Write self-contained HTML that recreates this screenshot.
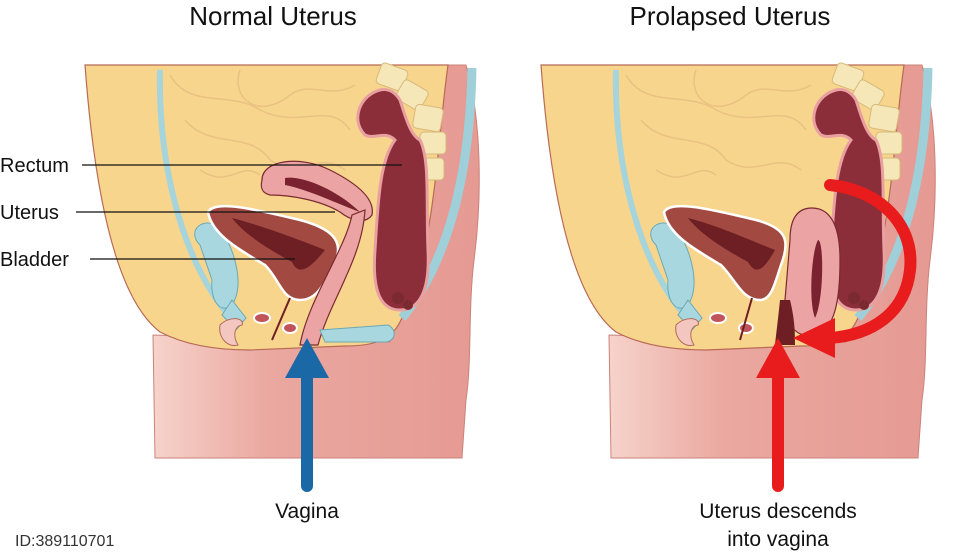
<!DOCTYPE html>
<html><head><meta charset="utf-8"><style>
html,body{margin:0;padding:0;background:#fff;}
svg{display:block;}
text{font-family:"Liberation Sans",sans-serif;}
</style></head><body>
<svg width="970" height="552" viewBox="0 0 970 552" xmlns="http://www.w3.org/2000/svg">
<defs>
<linearGradient id="skin" x1="0" x2="1" y1="0" y2="0">
<stop offset="0" stop-color="#f6d3cb"/><stop offset="0.35" stop-color="#eaa8a0"/><stop offset="1" stop-color="#e59a93"/>
</linearGradient>
<g id="body">
<path d="M380 65 L466 65 C482 120 482 200 474 260 C468 310 472 360 466 400 L462 458 L155 458 L153 335 L390 342 Z" fill="url(#skin)" stroke="#c98378" stroke-width="1"/>
<path d="M85 65 L448 65 C436 150 436 250 400 322 C390 342 370 346 345 346 L250 350 C215 350 185 345 160 332 C118 300 95 200 85 65 Z" fill="#f7d58c" stroke="#b86a55" stroke-width="1.2"/>
<path d="M160 70 C158 170 185 270 235 322" fill="none" stroke="#a6d4dc" stroke-width="6"/>
<path d="M472 68 C470 170 450 260 402 318" fill="none" stroke="#9fd0d9" stroke-width="9"/>
<g fill="#f6e7b8" stroke="#d7b97a" stroke-width="1">
<rect x="378" y="66" width="28" height="22" rx="4" transform="rotate(20 392 77)"/>
<rect x="398" y="84" width="28" height="22" rx="4" transform="rotate(30 412 95)"/>
<rect x="414" y="106" width="28" height="24" rx="4" transform="rotate(10 428 118)"/>
<rect x="420" y="132" width="26" height="22" rx="4"/>
<rect x="420" y="158" width="24" height="22" rx="4"/>
</g>
<g fill="none" stroke="#e9c283" stroke-width="1.5">
<path d="M170 75 C190 110 230 90 260 110 C300 130 330 100 350 130"/>
<path d="M185 120 C210 150 250 130 270 160 C300 180 320 150 345 170"/>
<path d="M240 70 C230 100 260 120 290 95 C310 80 330 100 355 85"/>
<path d="M200 170 C230 190 240 160 260 175"/>
</g>
<path d="M200 245 C185 230 205 215 220 228 C235 250 245 285 232 305 C220 315 210 300 212 280 Z" fill="#a9d7df" stroke="#6aa9b5" stroke-width="1"/>
<path d="M232 300 L246 318 L236 330 L222 315 Z" fill="#a9d7df" stroke="#6aa9b5"/>
<ellipse cx="262" cy="318" rx="8" ry="5" fill="#c0545a" stroke="#fff" stroke-width="2"/>
<ellipse cx="290" cy="328" rx="7" ry="5" fill="#c0545a" stroke="#fff" stroke-width="2"/>
<path d="M220 325 C230 315 245 318 242 325 C235 326 232 335 238 345 C228 348 218 338 220 325 Z" fill="#f3c7c0" stroke="#b06a5a"/>
<path d="M380 90 C360 95 350 120 365 135 C375 140 385 130 395 140 C380 160 378 200 375 250 C372 290 380 310 400 310 C420 310 430 290 428 250 C426 200 430 160 420 140 C410 135 405 115 400 100 C395 92 388 88 380 90 Z" fill="#8c2e3a" stroke="#e9a0a0" stroke-width="3"/>
<circle cx="398" cy="298" r="6" fill="#7a2a30"/><circle cx="408" cy="305" r="5" fill="#7a2a30"/>
</g>
</defs>

<text x="273" y="25" font-size="26" text-anchor="middle" fill="#111">Normal Uterus</text>
<text x="730" y="25" font-size="26" text-anchor="middle" fill="#111">Prolapsed Uterus</text>

<use href="#body"/>
<use href="#body" transform="translate(456 0)"/>

<!-- Left organs -->
<path d="M208 212 C215 200 250 208 300 220 C330 228 345 240 335 262 C325 282 318 300 300 300 C282 300 280 280 265 265 C240 250 212 235 208 212 Z" fill="#a24a42" stroke="#fff" stroke-width="2.5"/>
<path d="M232 218 C260 225 300 240 325 250 C315 262 300 280 292 262 C270 250 245 235 232 218 Z" fill="#6e1f24"/>
<path d="M290 298 L272 340" stroke="#6e1f24" stroke-width="2"/>
<path d="M262 180 C262 160 300 155 330 170 C360 185 375 200 372 215 C365 225 350 220 340 212 C320 200 290 195 270 195 C262 193 260 188 262 180 Z" fill="#eba3a3" stroke="#7a2a30" stroke-width="1.2"/>
<path d="M285 178 C300 175 335 188 360 212 C340 205 310 190 285 185 Z" fill="#7a2230"/>
<path d="M365 210 C362 260 330 300 318 345 L300 345 C308 300 345 250 352 215 Z" fill="#eba3a3" stroke="#7a2a30" stroke-width="1.2"/>
<path d="M320 330 L388 325 C398 330 395 342 385 342 L325 342 Z" fill="#a9d7df" stroke="#6aa9b5"/>

<!-- Right organs -->
<path d="M664 212 C671 200 706 208 756 220 C786 228 790 240 782 262 C775 282 772 300 760 300 C742 300 736 280 721 265 C696 250 668 235 664 212 Z" fill="#a24a42" stroke="#fff" stroke-width="2.5"/>
<path d="M688 218 C716 225 750 240 775 250 C768 262 758 280 748 262 C726 250 701 235 688 218 Z" fill="#6e1f24"/>
<path d="M752 298 L740 340" stroke="#6e1f24" stroke-width="2"/>
<path d="M790 240 C790 215 800 208 812 208 C830 208 840 225 840 260 C840 300 835 330 815 335 C800 338 785 330 785 300 Z" fill="#eba3a3" stroke="#7a2a30" stroke-width="1.2"/>
<path d="M818 240 C824 240 824 300 815 318 C808 300 812 250 818 240 Z" fill="#7a2230"/>
<path d="M780 300 C778 320 776 335 775 345 L795 345 C795 335 795 320 790 300 Z" fill="#6e1f24"/>

<!-- Labels -->
<g font-size="20" fill="#111">
<text x="0" y="172">Rectum</text>
<text x="0" y="219">Uterus</text>
<text x="0" y="266">Bladder</text>
</g>
<g stroke="#111" stroke-width="1.2">
<line x1="82" y1="165" x2="402" y2="165"/>
<line x1="76" y1="212" x2="335" y2="212"/>
<line x1="90" y1="259" x2="295" y2="259"/>
</g>

<!-- Blue arrow -->
<line x1="307" y1="486" x2="307" y2="375" stroke="#1b68a6" stroke-width="12" stroke-linecap="round"/>
<polygon points="285,378 329,378 307,338" fill="#1b68a6"/>
<text x="307" y="518" font-size="21" text-anchor="middle" fill="#111">Vagina</text>

<!-- Red arrows -->
<line x1="778" y1="486" x2="778" y2="375" stroke="#e81c1c" stroke-width="12" stroke-linecap="round"/>
<polygon points="756,378 800,378 778,338" fill="#e81c1c"/>
<path d="M830 185 C880 190 915 225 910 270 C905 315 870 335 830 338" fill="none" stroke="#e81c1c" stroke-width="12" stroke-linecap="round"/>
<polygon points="835,318 835,358 793,338" fill="#e81c1c"/>
<text x="778" y="518" font-size="21" text-anchor="middle" fill="#111">Uterus descends</text>
<text x="778" y="546" font-size="21" text-anchor="middle" fill="#111">into vagina</text>

<text x="15" y="546" font-size="16" fill="#333">ID:389110701</text>
</svg>
</body></html>
